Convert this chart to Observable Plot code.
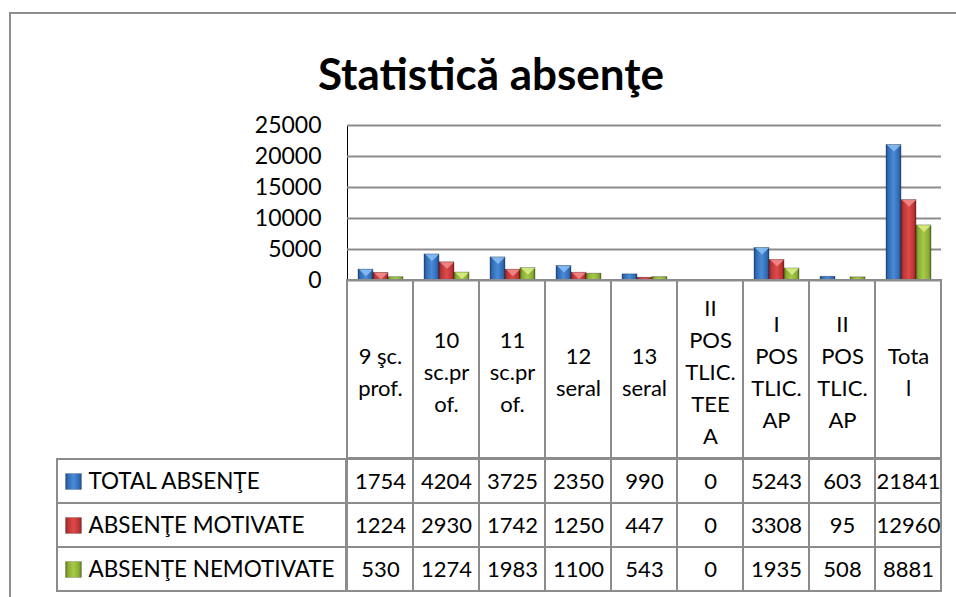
<!DOCTYPE html>
<html>
<head>
<meta charset="utf-8">
<script src="https://cdn.jsdelivr.net/npm/d3@7"></script>
<script src="https://cdn.jsdelivr.net/npm/@observablehq/plot@0.6"></script>
<style>
  html, body { margin: 0; padding: 0; background: #fff; }
  #page { position: relative; width: 956px; height: 597px; overflow: hidden; background: #fff; font-family: Lato, "Open Sans", sans-serif; }
  #border { position: absolute; left: 9px; top: 12px; width: 1000px; height: 700px; border-left: 2px solid #8e8e8e; border-top: 2px solid #8e8e8e; }
  #title { position: absolute; left: 10px; width: 962px; top: 48px; line-height: 50px; text-align: center; font-weight: 700; font-size: 44px; color: #000; }
  .part { position: absolute; }
  .part svg { overflow: visible; }
  #chart g[aria-label^="y-axis"] path, #chart g[aria-label^="y-axis"] line { stroke: #8c8c8c; stroke-width: 2px; }
</style>
</head>
<body>
<div id="page">
  <svg width="0" height="0" style="position:absolute">
    <defs>
      <linearGradient id="gBlue" x1="0" x2="1" y1="0" y2="0">
        <stop offset="0" stop-color="#1f4f8f"/>
        <stop offset="0.18" stop-color="#336fb8"/>
        <stop offset="0.5" stop-color="#4a8ad6"/>
        <stop offset="0.82" stop-color="#336fb8"/>
        <stop offset="1" stop-color="#1f4f8f"/>
      </linearGradient>
      <linearGradient id="gRed" x1="0" x2="1" y1="0" y2="0">
        <stop offset="0" stop-color="#8f2424"/>
        <stop offset="0.18" stop-color="#c23636"/>
        <stop offset="0.5" stop-color="#dc4a4a"/>
        <stop offset="0.82" stop-color="#c23636"/>
        <stop offset="1" stop-color="#8f2424"/>
      </linearGradient>
      <linearGradient id="gGreen" x1="0" x2="1" y1="0" y2="0">
        <stop offset="0" stop-color="#5f7a1e"/>
        <stop offset="0.18" stop-color="#8db034"/>
        <stop offset="0.5" stop-color="#a6c94a"/>
        <stop offset="0.82" stop-color="#8db034"/>
        <stop offset="1" stop-color="#5f7a1e"/>
      </linearGradient>
    </defs>
  </svg>
  <div id="border"></div>
  <div id="title">Statistică absenţe</div>
  <div id="chart" class="part" style="left:0;top:100px"></div>
  <div id="header" class="part" style="left:0;top:270px"></div>
  <div id="rows" class="part" style="left:0;top:448px"></div>
  <div id="legend" class="part" style="left:0;top:448px"></div>
</div>
<script>
// ---- data ----
const categories = ["9 şc. prof.", "10 sc.prof.", "11 sc.prof.", "12 seral", "13 seral", "II POSTLIC. TEEA", "I POSTLIC. AP", "II POSTLIC. AP", "Total"];
const headerLabels = ["9 şc.\nprof.", "10\nsc.pr\nof.", "11\nsc.pr\nof.", "12\nseral", "13\nseral", "II\nPOS\nTLIC.\nTEE\nA", "I\nPOS\nTLIC.\nAP", "II\nPOS\nTLIC.\nAP", "Tota\nl"];
const series = ["TOTAL ABSENŢE", "ABSENŢE MOTIVATE", "ABSENŢE NEMOTIVATE"];
const totalAbsente = [1754, 4204, 3725, 2350, 990, 0, 5243, 603, 21841];
const absenteMotivate = [1224, 2930, 1742, 1250, 447, 0, 3308, 95, 12960];
const absenteNemotivate = [530, 1274, 1983, 1100, 543, 0, 1935, 508, 8881];
const yTicks = [0, 5000, 10000, 15000, 20000, 25000];

const seriesFills = ["url(#gBlue)", "url(#gRed)", "url(#gGreen)"];
const seriesTops = ["#86bdf2", "#f28a8a", "#d6ec85"];

const seriesValues = [totalAbsente, absenteMotivate, absenteNemotivate];
const rows = [];
series.forEach((s, si) => categories.forEach((c, ci) => rows.push({cat: c, series: s, value: seriesValues[si][ci]})));

const font = "Lato, 'Open Sans', sans-serif";

// down-pointing bevel highlight on top of each bar
const downTri = {
  draw(ctx, size) {
    const r = Math.sqrt(size / Math.PI);
    ctx.moveTo(-r, -r * 0.45);
    ctx.lineTo(r, -r * 0.45);
    ctx.lineTo(0, r * 0.5);
    ctx.closePath();
  }
};

// ---- bar chart ----
const chart = Plot.plot({
  width: 956,
  height: 190,
  marginTop: 25,
  marginBottom: 10,
  marginLeft: 346,
  marginRight: 14,
  style: {background: "none", fontFamily: font, fontSize: "23px", color: "#000", overflow: "visible"},
  facet: {data: rows, x: "cat"},
  fx: {domain: categories, padding: 0, axis: null, label: null},
  x: {domain: series, axis: null, paddingInner: 0, paddingOuter: 0.65},
  y: {domain: [0, 25000], ticks: yTicks, tickFormat: d3.format("d"), tickSize: 0, tickPadding: 26, label: null, line: true},
  color: {domain: series, range: seriesFills},
  marks: [
    Plot.ruleY(yTicks, {stroke: "#8c8c8c", strokeWidth: 2}),
    Plot.barY(rows, {x: "series", y: "value", fill: "series", filter: d => d.value > 0, stroke: "rgba(0,0,0,0.35)", strokeWidth: 0.8}),
    ...series.map((s, i) => Plot.dot(rows, {
      x: "series", y: "value", filter: d => d.series === s && d.value > 1200,
      symbol: downTri, r: 7, dy: 3, fill: seriesTops[i], stroke: "none", fillOpacity: 0.9
    }))
  ]
});
document.getElementById("chart").appendChild(chart);

// ---- table header (category labels) ----
const header = Plot.plot({
  width: 956,
  height: 198,
  marginTop: 10,
  marginBottom: 10,
  marginLeft: 346,
  marginRight: 14,
  style: {background: "none", fontFamily: font, fontSize: "22px", color: "#000", overflow: "visible"},
  x: {domain: categories, padding: 0, axis: null},
  marks: [
    Plot.cell(categories, {x: d => d, fill: "none", stroke: "#8c8c8c", strokeWidth: 2}),
    Plot.text(categories, {x: d => d, text: (d, i) => headerLabels[i], fontSize: 22, lineHeight: 1.45, fill: "#000"})
  ]
});
document.getElementById("header").appendChild(header);

// ---- table values ----
const table = Plot.plot({
  width: 956,
  height: 154,
  marginTop: 10,
  marginBottom: 10,
  marginLeft: 346,
  marginRight: 14,
  style: {background: "none", fontFamily: font, fontSize: "22px", color: "#000", overflow: "visible"},
  x: {domain: categories, padding: 0, axis: null},
  y: {domain: series, padding: 0, axis: null},
  marks: [
    Plot.cell(rows, {x: "cat", y: "series", fill: "none", stroke: "#8c8c8c", strokeWidth: 2}),
    Plot.text(rows, {x: "cat", y: "series", text: d => String(d.value), fontSize: 22, fill: "#000"})
  ]
});
document.getElementById("rows").appendChild(table);

// ---- legend column ----
const legend = Plot.plot({
  width: 346,
  height: 154,
  marginTop: 10,
  marginBottom: 10,
  marginLeft: 57,
  marginRight: 0,
  style: {background: "none", fontFamily: font, fontSize: "22.5px", color: "#000", overflow: "visible"},
  y: {domain: series, padding: 0, axis: null},
  color: {domain: series, range: seriesFills},
  marks: [
    Plot.cell(series, {y: d => d, fill: "none", stroke: "#8c8c8c", strokeWidth: 2}),
    Plot.dot(series, {y: d => d, frameAnchor: "left", dx: 16, symbol: "square", r: 9, fill: d => d, stroke: "rgba(0,0,0,0.3)", strokeWidth: 0.6}),
    Plot.text(series, {y: d => d, frameAnchor: "left", dx: 31, textAnchor: "start", fontSize: 22.5, fill: "#000"})
  ]
});
document.getElementById("legend").appendChild(legend);
</script>
</body>
</html>
